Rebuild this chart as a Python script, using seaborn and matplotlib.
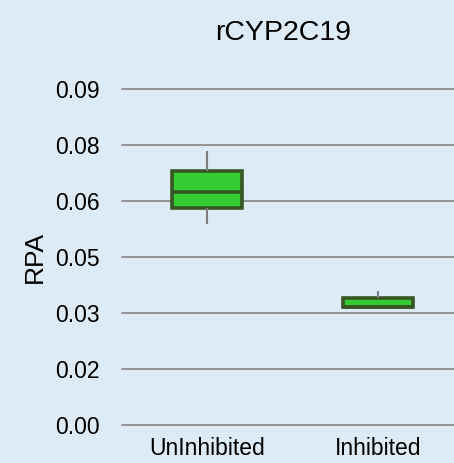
import matplotlib
matplotlib.use("Agg")
import matplotlib.pyplot as plt
import seaborn as sns
import pandas as pd
from decimal import Decimal, ROUND_HALF_UP

# Values (five-number summaries per group)
groups = ["UnInhibited", "Inhibited"]
uninhibited = [0.0538, 0.0581, 0.0624, 0.0680, 0.0734]
inhibited = [0.0316, 0.0316, 0.0316, 0.0339, 0.0359]
yticks = [0.0, 0.015, 0.03, 0.045, 0.06, 0.075, 0.09]

data = pd.DataFrame({
    "group": [groups[0]] * len(uninhibited) + [groups[1]] * len(inhibited),
    "RPA": uninhibited + inhibited,
})

bg = "#DDEBF7"
sns.set_style("white")
plt.rcParams["font.family"] = ["Liberation Sans", "DejaVu Sans"]
plt.rcParams["text.color"] = "black"

W, H = 454, 463
fig = plt.figure(figsize=(W / 100, H / 100), dpi=100, facecolor=bg)
ax = fig.add_axes([122 / W, (H - 425) / H, (W - 122) / W, (425 - 89) / H])
ax.set_facecolor(bg)

for y in yticks:
    ax.axhline(y, color="#8C8C8C", lw=1.3, zorder=0, clip_on=False)

sns.boxplot(data=data, x="group", y="RPA", order=groups, width=0.41,
            color="#33CC33", saturation=1, whis=1.5, fliersize=0, ax=ax,
            boxprops=dict(edgecolor="#375623", linewidth=2.6),
            medianprops=dict(color="#375623", linewidth=2.6),
            whiskerprops=dict(color="#7F7F7F", linewidth=1.5),
            capprops=dict(linewidth=0))

def fmt(v):
    return str(Decimal(str(v)).quantize(Decimal("0.01"), rounding=ROUND_HALF_UP))

ax.set_xlim(-0.5, 1.445)
ax.set_ylim(0, 0.09)
ax.set_yticks(yticks)
ax.set_yticklabels([fmt(v) for v in yticks])
for s in ax.spines.values():
    s.set_visible(False)
ax.tick_params(axis="y", length=0, pad=16, labelsize=16.5, labelcolor="black")
ax.tick_params(axis="x", length=0, pad=8.5, labelsize=16.5, labelcolor="black")
ax.set_xlabel("")
ax.set_ylabel("RPA", fontsize=19, labelpad=6, color="black")
fig.text(283 / W, 1 - 33 / H, "rCYP2C19", ha="center", va="center", fontsize=20.5)

fig.savefig("out.png", dpi=100, facecolor=bg)
